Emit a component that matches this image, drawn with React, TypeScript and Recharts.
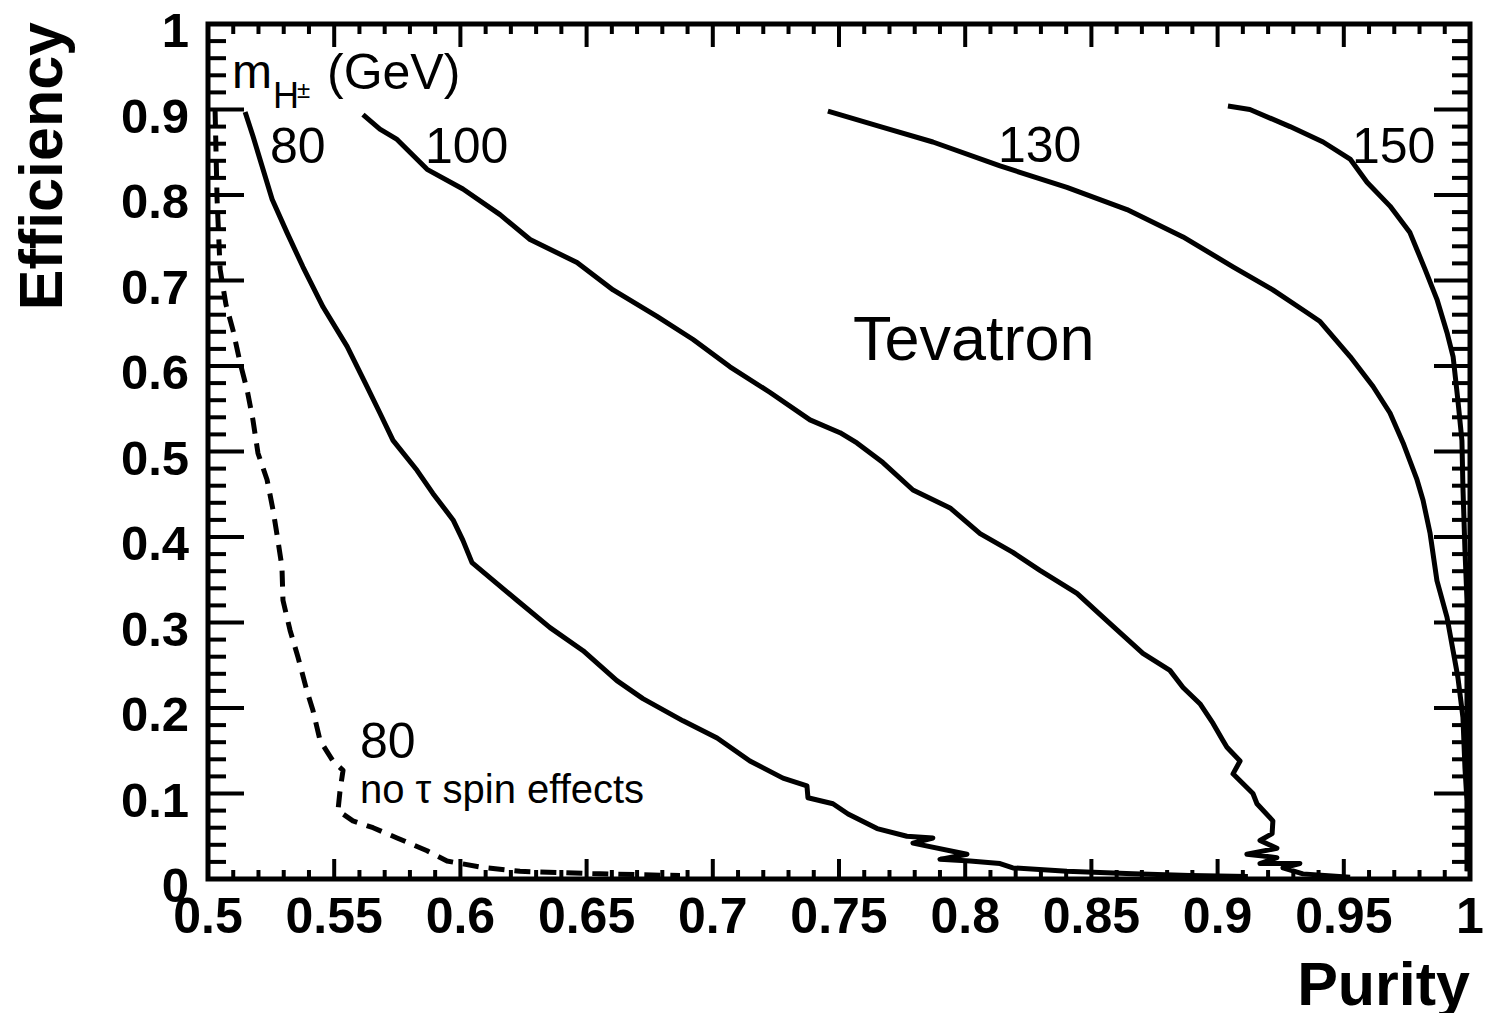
import React from 'react';
import { ComposedChart, Line, XAxis, YAxis, ReferenceArea } from 'recharts';

// axis ticks
const purityMajor = [0.5, 0.55, 0.6, 0.65, 0.7, 0.75, 0.8, 0.85, 0.9, 0.95, 1];
const purityLabels = ['0.5', '0.55', '0.6', '0.65', '0.7', '0.75', '0.8', '0.85', '0.9', '0.95', '1'];
const effMajor = [0, 0.1, 0.2, 0.3, 0.4, 0.5, 0.6, 0.7, 0.8, 0.9, 1];
const effLabels = ['0', '0.1', '0.2', '0.3', '0.4', '0.5', '0.6', '0.7', '0.8', '0.9', '1'];

// m_H = 80 GeV
const m80Purity = [0.5147, 0.5178, 0.5214, 0.5254, 0.5313, 0.5376, 0.5456, 0.5551, 0.563, 0.5681, 0.5733, 0.5828, 0.5891, 0.5971, 0.601, 0.6046, 0.6224, 0.6355, 0.6486, 0.662, 0.6723, 0.6882, 0.7017, 0.7147, 0.7278, 0.7373, 0.7377, 0.7476, 0.7536, 0.7651, 0.7769, 0.7872, 0.7793, 0.8007, 0.79, 0.8019, 0.8138, 0.8189, 0.8403, 0.8665, 0.8891, 0.912];
const m80Eff = [0.897, 0.869, 0.834, 0.795, 0.756, 0.716, 0.669, 0.623, 0.576, 0.545, 0.513, 0.478, 0.451, 0.42, 0.396, 0.37, 0.326, 0.294, 0.267, 0.232, 0.211, 0.185, 0.165, 0.138, 0.118, 0.109, 0.095, 0.088, 0.076, 0.059, 0.05, 0.048, 0.042, 0.029, 0.023, 0.021, 0.018, 0.013, 0.009, 0.006, 0.004, 0.003];

// m_H = 100 GeV
const m100Purity = [0.5614, 0.5681, 0.5749, 0.5868, 0.601, 0.6157, 0.6276, 0.6462, 0.6605, 0.6779, 0.6922, 0.7068, 0.7227, 0.7385, 0.7504, 0.7571, 0.7674, 0.7793, 0.794, 0.8059, 0.8189, 0.8296, 0.8443, 0.8562, 0.8704, 0.8811, 0.8863, 0.893, 0.8982, 0.9021, 0.9037, 0.9089, 0.9061, 0.914, 0.9156, 0.9219, 0.9216, 0.9168, 0.9235, 0.9116, 0.9235, 0.9168, 0.9326, 0.9259, 0.9338, 0.9525];
const m100Eff = [0.894, 0.877, 0.865, 0.83, 0.807, 0.777, 0.748, 0.721, 0.689, 0.658, 0.631, 0.599, 0.569, 0.537, 0.522, 0.51, 0.487, 0.455, 0.434, 0.404, 0.382, 0.361, 0.334, 0.302, 0.264, 0.244, 0.224, 0.205, 0.182, 0.162, 0.154, 0.138, 0.123, 0.1, 0.088, 0.068, 0.053, 0.045, 0.036, 0.029, 0.025, 0.018, 0.018, 0.013, 0.006, 0.002];

// m_H = 130 GeV
const m130Purity = [0.7456, 0.7674, 0.7872, 0.8138, 0.8403, 0.8641, 0.8863, 0.9061, 0.9219, 0.9346, 0.9406, 0.9525, 0.9616, 0.9683, 0.9735, 0.979, 0.9814, 0.9842, 0.9869, 0.9909, 0.9933, 0.9952, 0.9972, 0.998, 0.9988, 0.9988];
const m130Eff = [0.898, 0.879, 0.862, 0.834, 0.809, 0.783, 0.751, 0.716, 0.689, 0.664, 0.652, 0.611, 0.576, 0.545, 0.51, 0.467, 0.443, 0.404, 0.349, 0.306, 0.267, 0.236, 0.189, 0.13, 0.091, 0.009];

// m_H = 150 GeV
const m150Purity = [0.9041, 0.9128, 0.9287, 0.9418, 0.9525, 0.9592, 0.9683, 0.9762, 0.979, 0.9822, 0.9869, 0.9909, 0.9933, 0.9952, 0.9968, 0.9972, 0.998, 0.9988, 0.9988, 0.9992];
const m150Eff = [0.904, 0.9, 0.88, 0.862, 0.842, 0.815, 0.787, 0.756, 0.736, 0.713, 0.678, 0.639, 0.611, 0.56, 0.513, 0.458, 0.385, 0.326, 0.209, 0.009];

// m_H = 80 GeV, no tau spin effects (dashed)
const noSpinPurity = [0.5028, 0.5036, 0.5048, 0.5071, 0.5099, 0.5127, 0.5155, 0.5178, 0.5198, 0.5234, 0.5258, 0.5277, 0.5293, 0.5297, 0.5325, 0.5357, 0.5392, 0.5416, 0.5444, 0.5495, 0.5535, 0.5523, 0.5515, 0.5574, 0.5654, 0.5749, 0.5868, 0.5947, 0.6078, 0.6236, 0.6553, 0.687];
const noSpinEff = [0.9, 0.795, 0.713, 0.672, 0.642, 0.604, 0.572, 0.537, 0.498, 0.467, 0.431, 0.396, 0.365, 0.326, 0.291, 0.259, 0.22, 0.197, 0.162, 0.138, 0.127, 0.103, 0.08, 0.068, 0.06, 0.048, 0.033, 0.021, 0.014, 0.009, 0.006, 0.004];

const zip = (xs: number[], ys: number[]) => xs.map((x, i) => ({ x, y: ys[i] }));

// minor ticks: split each major interval into n parts
const subdivide = (major: number[], n: number) => {
  const out: number[] = [];
  for (let i = 0; i < major.length - 1; i++) {
    for (let k = 0; k < n; k++) {
      out.push(Math.round((major[i] + ((major[i + 1] - major[i]) * k) / n) * 10000) / 10000);
    }
  }
  out.push(major[major.length - 1]);
  return out;
};

const xTicks = subdivide(purityMajor, 5);
const yTicks = subdivide(effMajor, 5);

const isMajor = (major: number[], v: number) => major.findIndex((m) => Math.abs(m - v) < 1e-6);

const W = 1478;
const H = 1005;
const FONT = '"Liberation Sans", Arial, Helvetica, sans-serif';

const BottomTick = (props: any) => {
  const { x, y, payload } = props;
  const idx = isMajor(purityMajor, payload.value);
  return (
    <g>
      <line x1={x} x2={x} y1={y} y2={y - (idx >= 0 ? 20 : 9)} stroke="#000" strokeWidth={4} />
      {idx >= 0 && (
        <text x={x} y={y + 54} textAnchor="middle" fontSize={50} fontWeight="bold" fontFamily={FONT} fill="#000">
          {purityLabels[idx]}
        </text>
      )}
    </g>
  );
};

const TopTick = (props: any) => {
  const { x, y, payload } = props;
  const idx = isMajor(purityMajor, payload.value);
  return <line x1={x} x2={x} y1={y} y2={y + (idx >= 0 ? 23 : 10)} stroke="#000" strokeWidth={4} />;
};

const LeftTick = (props: any) => {
  const { x, y, payload } = props;
  const idx = isMajor(effMajor, payload.value);
  return (
    <g>
      <line x1={x} x2={x + (idx >= 0 ? 36 : 18)} y1={y} y2={y} stroke="#000" strokeWidth={4} />
      {idx >= 0 && (
        <text x={x - 19} y={y + 23} textAnchor="end" fontSize={49} fontWeight="bold" fontFamily={FONT} fill="#000">
          {effLabels[idx]}
        </text>
      )}
    </g>
  );
};

const RightTick = (props: any) => {
  const { x, y, payload } = props;
  const idx = isMajor(effMajor, payload.value);
  return <line x1={x} x2={x - (idx >= 0 ? 36 : 18)} y1={y} y2={y} stroke="#000" strokeWidth={4} />;
};

const solid = { stroke: '#000', strokeWidth: 5, dot: false, type: 'linear' as const, isAnimationActive: false, xAxisId: 'b', yAxisId: 'l', dataKey: 'y', strokeLinejoin: 'round' as const };

export default function App() {
  return (
    <div style={{ position: 'relative', width: W, height: H, background: '#fff', fontFamily: FONT }}>
      {/* axes get 1px of room so recharts still draws them; plot area stays 200..1462 x 16..871 */}
      <ComposedChart width={W} height={H} margin={{ top: 15, right: 15, bottom: 133, left: 199 }}>
        <XAxis xAxisId="b" orientation="bottom" type="number" dataKey="x" domain={[0.5, 1]} allowDataOverflow
          ticks={xTicks} interval={0} height={1} tickSize={0} tickMargin={0} tickLine={false} axisLine={false} tick={BottomTick} />
        <XAxis xAxisId="t" orientation="top" type="number" dataKey="x" domain={[0.5, 1]} allowDataOverflow
          ticks={xTicks} interval={0} height={1} tickSize={0} tickMargin={0} tickLine={false} axisLine={false} tick={TopTick} />
        <YAxis yAxisId="l" orientation="left" type="number" domain={[0, 1]} allowDataOverflow
          ticks={yTicks} interval={0} width={1} tickSize={0} tickMargin={0} tickLine={false} axisLine={false} tick={LeftTick} />
        <YAxis yAxisId="r" orientation="right" type="number" domain={[0, 1]} allowDataOverflow
          ticks={yTicks} interval={0} width={1} tickSize={0} tickMargin={0} tickLine={false} axisLine={false} tick={RightTick} />
        <ReferenceArea xAxisId="b" yAxisId="l" x1={0.5} x2={1} y1={0} y2={1} fill="none" stroke="#000" strokeWidth={5} ifOverflow="visible" />
        <Line {...solid} data={zip(m80Purity, m80Eff)} />
        <Line {...solid} data={zip(m100Purity, m100Eff)} />
        <Line {...solid} data={zip(m130Purity, m130Eff)} />
        <Line {...solid} data={zip(m150Purity, m150Eff)} />
        <Line {...solid} data={zip(noSpinPurity, noSpinEff)} strokeDasharray="16 10" />
      </ComposedChart>
      <svg width={W} height={H + 8} style={{ position: 'absolute', left: 0, top: 0, overflow: 'visible', pointerEvents: 'none' }}
        fontFamily={FONT} fill="#000">
        <text x={224} y={80} fontSize={48}>m</text>
        <text x={265} y={100} fontSize={36}>H</text>
        <text x={289} y={90} fontSize={24}>±</text>
        <text x={319} y={81} fontSize={50}>(GeV)</text>
        <text x={262} y={155} fontSize={50}>80</text>
        <text x={417} y={155} fontSize={50}>100</text>
        <text x={990} y={154} fontSize={50}>130</text>
        <text x={1344} y={155} fontSize={50}>150</text>
        <text x={845} y={352} fontSize={63}>Tevatron</text>
        <text x={352} y={750} fontSize={50}>80</text>
        <text x={352} y={795} fontSize={40}>no τ spin effects</text>
        <text x={1462} y={997} fontSize={61} fontWeight="bold" textAnchor="end">Purity</text>
        <text transform="translate(54,14) rotate(-90)" fontSize={61} fontWeight="bold" textAnchor="end">Efficiency</text>
      </svg>
    </div>
  );
}
